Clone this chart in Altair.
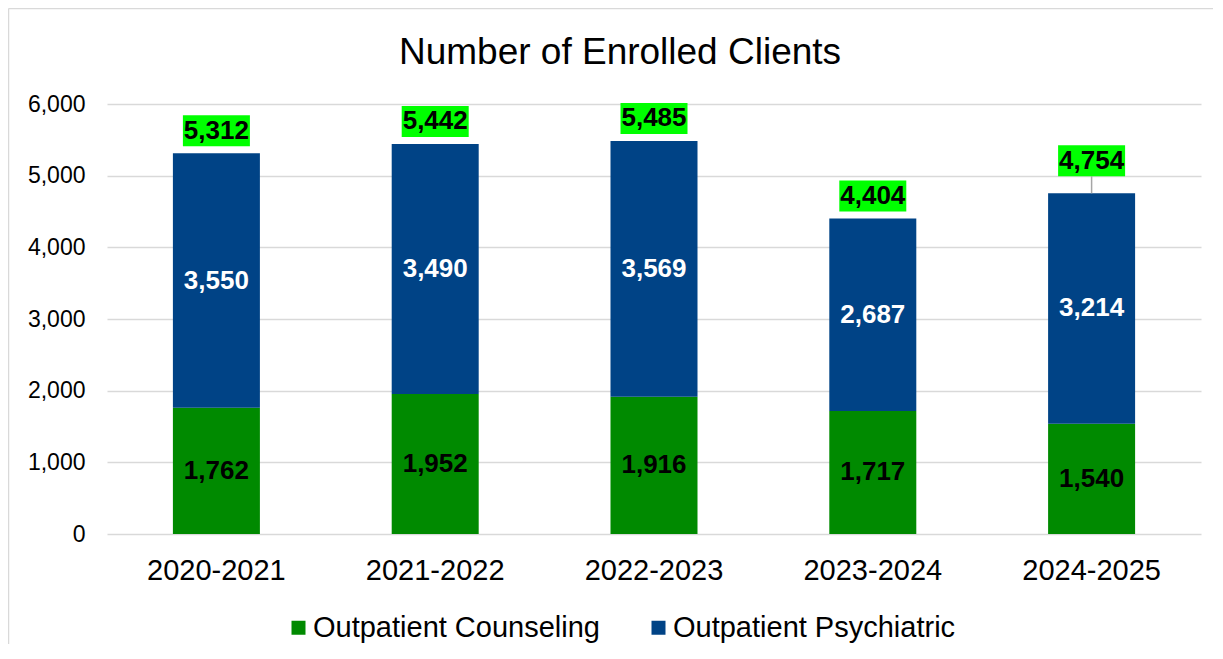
import altair as alt
import pandas as pd

FONT = "Liberation Sans, Arial, sans-serif"

years = ["2020-2021", "2021-2022", "2022-2023", "2023-2024", "2024-2025"]
counseling = [1762, 1952, 1916, 1717, 1540]
psychiatric = [3550, 3490, 3569, 2687, 3214]
series_names = ["Outpatient Counseling", "Outpatient Psychiatric"]
series_colors = ["#008A00", "#004386"]
y_ticks = [0, 1000, 2000, 3000, 4000, 5000, 6000]

rows = []
for i, yr in enumerate(years):
    c, p = counseling[i], psychiatric[i]
    rows.append(dict(year=yr, series=series_names[0], value=c, order=0, mid=c / 2))
    rows.append(dict(year=yr, series=series_names[1], value=p, order=1, mid=c + p / 2))
seg = pd.DataFrame(rows)

tot = pd.DataFrame(dict(year=years, total=[c + p for c, p in zip(counseling, psychiatric)]))
tot["lifted"] = tot["year"] == years[-1]

xscale = alt.Scale(domain=years, paddingInner=0.6, paddingOuter=0.3)
yscale = alt.Scale(domain=[0, 6000])

x_ax = alt.Axis(title=None, labelAngle=0, labelFontSize=29, labelPadding=22,
                ticks=False, tickSize=0, domain=False, labelColor="black",
                labelFont=FONT, grid=False)
y_ax = alt.Axis(title=None, values=y_ticks, labelExpr="format(datum.value, ',')",
                labelFontSize=23, labelPadding=22, ticks=False, tickSize=0, domain=False,
                grid=True, gridColor="#d9d9d9", gridWidth=1.5,
                labelColor="black", labelFont=FONT)


def X():
    return alt.X("year:N", sort=years, scale=xscale, axis=x_ax)


def Y(field, **kw):
    return alt.Y(field, scale=yscale, axis=y_ax, **kw)


bars = alt.Chart(seg).mark_bar(size=87).encode(
    x=X(),
    y=Y("value:Q", stack="zero"),
    color=alt.Color("series:N",
                    scale=alt.Scale(domain=series_names, range=series_colors),
                    legend=alt.Legend(title=None, orient="none", legendX=177, legendY=509,
                                      direction="horizontal", symbolType="square",
                                      symbolSize=196, symbolStrokeWidth=0,
                                      labelFontSize=29, labelFont=FONT, labelColor="black",
                                      labelOffset=0, columnPadding=44, labelLimit=500)),
    order=alt.Order("order:Q"),
)

seg_text_c = alt.Chart(seg).transform_filter(
    alt.datum.series == series_names[0]
).mark_text(fontSize=26, fontWeight="bold", font=FONT, color="black", baseline="middle").encode(
    x=X(), y=Y("mid:Q"), text=alt.Text("value:Q", format=","),
)
seg_text_p = alt.Chart(seg).transform_filter(
    alt.datum.series == series_names[1]
).mark_text(fontSize=26, fontWeight="bold", font=FONT, color="white", baseline="middle").encode(
    x=X(), y=Y("mid:Q"), text=alt.Text("value:Q", format=","),
)

tot_n = alt.Chart(tot).transform_filter("!datum.lifted")
tot_l = alt.Chart(tot).transform_filter("datum.lifted")

box_n = tot_n.mark_bar(size=67, color="#00FF00", yOffset=-7, y2Offset=-38).encode(
    x=X(), y=Y("total:Q"), y2="total:Q")
box_l = tot_l.mark_bar(size=67, color="#00FF00", yOffset=-17, y2Offset=-48).encode(
    x=X(), y=Y("total:Q"), y2="total:Q")
leader = tot_l.mark_rule(color="#a6a6a6", strokeWidth=1.5, yOffset=0, y2Offset=-17).encode(
    x=X(), y=Y("total:Q"), y2="total:Q")
txt_n = tot_n.mark_text(fontSize=26, fontWeight="bold", font=FONT, color="black",
                        baseline="middle", dy=-22.5).encode(
    x=X(), y=Y("total:Q"), text=alt.Text("total:Q", format=","))
txt_l = tot_l.mark_text(fontSize=26, fontWeight="bold", font=FONT, color="black",
                        baseline="middle", dy=-32.5).encode(
    x=X(), y=Y("total:Q"), text=alt.Text("total:Q", format=","))

frame_df = pd.DataFrame({"a": [0]})
border_left = alt.Chart(frame_df).mark_rule(color="#d9d9d9", strokeWidth=1.5).encode(
    x=alt.value(-98.5), y=alt.value(-95.5), y2=alt.value(560))
border_top = alt.Chart(frame_df).mark_rule(color="#d9d9d9", strokeWidth=1.5).encode(
    x=alt.value(-98.5), x2=alt.value(1110), y=alt.value(-95.5))

chart = alt.layer(
    border_left, border_top, bars, seg_text_c, seg_text_p, leader, box_n, box_l, txt_n, txt_l
).properties(
    width=1094, height=430,
    title=alt.TitleParams("Number of Enrolled Clients", fontSize=37, font=FONT,
                          fontWeight="normal", color="black", anchor="middle",
                          dx=-34, offset=-93, baseline="alphabetic"),
    padding={"left": 99, "top": 96, "right": 12, "bottom": 110},
    autosize=alt.AutoSizeParams(type="none"),
).configure(background="white", font=FONT).configure_view(stroke=None)

chart.save("out.html", embed_options={"renderer": "svg", "actions": False})
